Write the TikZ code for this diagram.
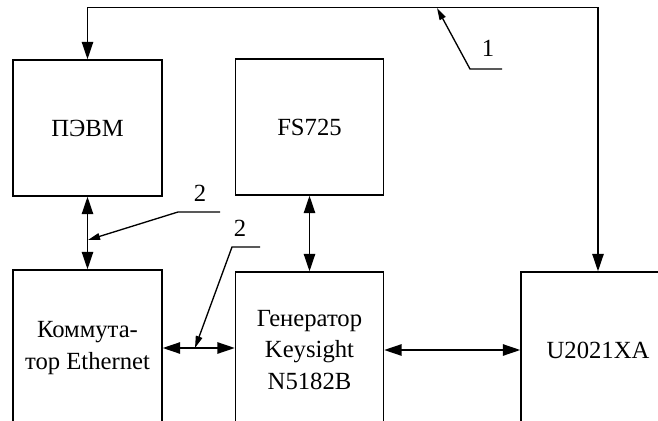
\documentclass[tikz,border=0pt]{standalone}
\usepackage{fontspec}
\setmainfont{Liberation Serif}
\usetikzlibrary{positioning,arrows.meta,calc}

\begin{document}
\begin{tikzpicture}[x=0.75pt,y=-0.75pt,
  blk/.style={draw,line width=1.1pt,align=center,inner sep=0pt,
    font=\fontsize{18.5}{23.5}\selectfont},
  link/.style={line width=1.1pt,
    {Triangle[length=13pt,width=8.5pt]}-{Triangle[length=13pt,width=8.5pt]}},
  lead/.style={line width=1pt,-{Triangle[length=9pt,width=5pt]}},
  num/.style={font=\fontsize{18.5}{20}\selectfont}]
\useasboundingbox (0,0) rectangle (658,421);
\clip (0,0) rectangle (658,421);
% blocks
\node[blk,minimum width=111.75pt,minimum height=102pt] (pc) at (87.5,128) {ПЭВМ};
\node[blk,minimum width=111pt,minimum height=102pt] (fs) at (309.5,127) {FS725};
\node[blk,minimum width=111.75pt,minimum height=117pt] (komm) at (87.5,348) {Коммута-\\тор Ethernet};
\node[blk,minimum width=111pt,minimum height=117pt] (gen) at (309.5,350) {Генератор\\Keysight\\N5182B};
\node[blk,minimum width=115.5pt,minimum height=117pt] (u) at (598,350) {U2021XA};
% links
\draw[link] (pc.north) -- ++(0,-52) -| (u.north);
\draw[link] (pc.south) -- (komm.north);
\draw[link] (fs.south) -- (gen.north);
\draw[link] (komm.east) -- (komm.east -| gen.west);
\draw[link] (gen.east) -- (gen.east -| u.west);
% callouts
\coordinate (tip1) at (437,8);
\coordinate (tip2) at (88,240);
\coordinate (tip3) at (195,348);
\draw[lead] (502,69) -- (470,69) -- (tip1);
\node[num] (n1) at (488,48) {1};
\draw[lead] (220,212) -- (178,212) -- (tip2);
\node[num] (n2) at (200,193) {2};
\draw[lead] (260,247) -- (232,247) -- (tip3);
\node[num] (n3) at (240,228) {2};
\end{tikzpicture}
\end{document}
